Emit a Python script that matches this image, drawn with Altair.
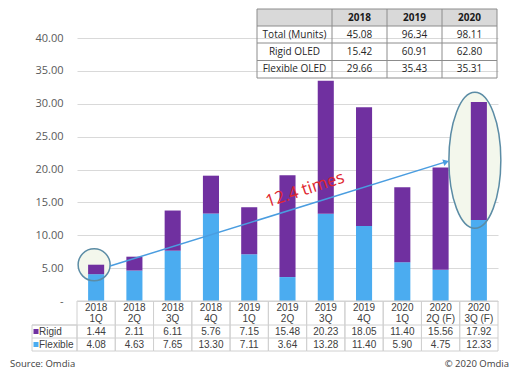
import altair as alt
import pandas as pd

# ---------------- data ----------------
categories = ["2018 1Q", "2018 2Q", "2018 3Q", "2018 4Q", "2019 1Q", "2019 2Q",
              "2019 3Q", "2019 4Q", "2020 1Q", "2020 2Q (F)", "2020 3Q (F)"]
rigid = [1.44, 2.11, 6.11, 5.76, 7.15, 15.48, 20.23, 18.05, 11.40, 15.56, 17.92]
flexible = [4.08, 4.63, 7.65, 13.30, 7.11, 3.64, 13.28, 11.40, 5.90, 4.75, 12.33]
y_ticks = [0, 5, 10, 15, 20, 25, 30, 35, 40]

summary_header = ["", "2018", "2019", "2020"]
summary_labels = ["Total (Munits)", "Rigid OLED", "Flexible OLED"]
summary_total = ["45.08", "96.34", "98.11"]
summary_rigid = ["15.42", "60.91", "62.80"]
summary_flex = ["29.66", "35.43", "35.31"]

annot_text = "12.4 times"
source_text = "Source: Omdia"
copy_text = "© 2020 Omdia"

# ---------------- layout constants ----------------
W, H = 421, 263
PURPLE = "#7030A0"
BLUE = "#4BACF0"
GRID = "#D9D9D9"
FONT = "Open Sans"
TFONT = "Liberation Sans"

rows = []
for i, c in enumerate(categories):
    rows.append({"cat": c, "series": "Flexible", "value": flexible[i], "ord": 0})
    rows.append({"cat": c, "series": "Rigid", "value": rigid[i], "ord": 1})
bars_df = pd.DataFrame(rows)

tab_df = pd.DataFrame({
    "cat": categories,
    "year": [c.split(" ", 1)[0] for c in categories],
    "q": [c.split(" ", 1)[1] for c in categories],
    "rigid": [f"{v:.2f}" for v in rigid],
    "flex": [f"{v:.2f}" for v in flexible],
})

one = pd.DataFrame({"k": [0]})

xscale = alt.Scale(domain=categories, paddingInner=0, paddingOuter=0)
X = alt.X("cat:N", sort=categories, scale=xscale, axis=None)
yscale = alt.Scale(domain=[0, 40], nice=False)
yaxis = alt.Axis(values=y_ticks, title=None, grid=True, gridColor=GRID,
                 domain=False, ticks=False, labelPadding=14,
                 labelFontSize=11, labelColor="#595959", labelFont=FONT,
                 labelExpr="datum.value == 0 ? '-' : format(datum.value, '.2f')")
Y = alt.Y("value:Q", scale=yscale, axis=yaxis)

bars = alt.Chart(bars_df).mark_bar(width=alt.RelativeBandSize(0.42)).encode(
    x=X,
    y=alt.Y("value:Q", stack="zero", scale=yscale, axis=yaxis),
    color=alt.Color("series:N", scale=alt.Scale(domain=["Rigid", "Flexible"],
                                                range=[PURPLE, BLUE]), legend=None),
    order=alt.Order("ord:Q"),
)

# annotation anchors (in data coordinates)
circ_df = pd.DataFrame({"cat": ["2018 1Q"], "value": [5.5]})
ell_df = pd.DataFrame({"cat": ["2020 3Q (F)"], "value": [21.4]})
arrow_df = pd.DataFrame({"cat": ["2018 1Q"], "cat2": ["2020 2Q (F)"],
                         "value": [5.32], "value2": [21.2]})
head_df = pd.DataFrame({"cat": ["2020 2Q (F)"], "value": [21.15]})
label_df = pd.DataFrame({"cat": ["2019 2Q"], "value": [16.9], "txt": [annot_text]})

ell_path = "M -0.382 0 A 0.382 1 0 1 0 0.382 0 A 0.382 1 0 1 0 -0.382 0 Z"
FILL = "#F3F7EC"
EDGE = "#5B8CA5"
circ_fill = alt.Chart(circ_df).mark_point(shape="circle", size=1024, filled=True,
                                          color=FILL, opacity=1, xOffset=-2).encode(x=X, y=Y)
ell_fill = alt.Chart(ell_df).mark_point(shape=ell_path, size=18496, filled=True,
                                        color=FILL, opacity=1, xOffset=-4).encode(x=X, y=Y)
circ_stroke = alt.Chart(circ_df).mark_point(shape="circle", size=1024, filled=False,
                                            stroke=EDGE, strokeWidth=1.5, opacity=1,
                                            xOffset=-2).encode(x=X, y=Y)
ell_stroke = alt.Chart(ell_df).mark_point(shape=ell_path, size=18496, filled=False,
                                          stroke=EDGE, strokeWidth=1.5, opacity=1,
                                          xOffset=-4).encode(x=X, y=Y)
arrow = alt.Chart(arrow_df).mark_rule(color="#4A9DE0", strokeWidth=1.5,
                                      xOffset=13.9, x2Offset=6).encode(
    x=X, x2="cat2:N", y=Y, y2="value2:Q")
arrow_head = alt.Chart(head_df).mark_point(shape="triangle-right", angle=343, size=45,
                                           filled=True, color="#4A9DE0", opacity=1,
                                           xOffset=5.5).encode(x=X, y=Y)
label = alt.Chart(label_df).mark_text(angle=342, fontSize=17, color="#E0262E",
                                      font=FONT, xOffset=17.5).encode(x=X, y=Y, text="txt:N")

layers = [circ_fill, ell_fill, bars, circ_stroke, ell_stroke, arrow, arrow_head, label]

# ---------------- bottom table ----------------
LINE = "#D0D0D0"
layers.append(alt.Chart(tab_df).mark_rect(fillOpacity=0, stroke=LINE, strokeWidth=1).encode(
    x=X, y=alt.value(263), y2=alt.value(313)))
layers.append(alt.Chart(one).mark_rect(fillOpacity=0, stroke=LINE, strokeWidth=1).encode(
    x=alt.value(-45), x2=alt.value(0), y=alt.value(287), y2=alt.value(313)))
for yy in (287, 300):
    layers.append(alt.Chart(one).mark_rule(color=LINE).encode(
        x=alt.value(-45), x2=alt.value(W), y=alt.value(yy)))

tkw = dict(fontSize=10, color="#404040", font=TFONT)
for field, yy in (("year", 270), ("q", 281), ("rigid", 293.5), ("flex", 306.5)):
    layers.append(alt.Chart(tab_df).mark_text(**tkw).encode(
        x=X, y=alt.value(yy), text=f"{field}:N"))

for name, col, yy in (("Rigid", PURPLE, 293.5), ("Flexible", BLUE, 306.5)):
    layers.append(alt.Chart(one).mark_square(size=25, opacity=1, color=col).encode(
        x=alt.value(-41), y=alt.value(yy)))
    layers.append(alt.Chart(one).mark_text(text=name, align="left", **tkw).encode(
        x=alt.value(-38), y=alt.value(yy)))

# ---------------- top summary table ----------------
col_edges = [180, 255, 310, 365, 420]
row_edges = [-29, -12, 5, 22.5, 40]
table_rows = [summary_header,
              [summary_labels[0]] + summary_total,
              [summary_labels[1]] + summary_rigid,
              [summary_labels[2]] + summary_flex]

layers.append(alt.Chart(one).mark_rect(color="#D9D9D9").encode(
    x=alt.value(col_edges[0]), x2=alt.value(col_edges[-1]),
    y=alt.value(row_edges[0]), y2=alt.value(row_edges[1])))
for yy in row_edges:
    layers.append(alt.Chart(one).mark_rule(color="#8C8C8C").encode(
        x=alt.value(col_edges[0]), x2=alt.value(col_edges[-1]), y=alt.value(yy)))
for xx in col_edges:
    layers.append(alt.Chart(one).mark_rule(color="#8C8C8C").encode(
        x=alt.value(xx), y=alt.value(row_edges[0]), y2=alt.value(row_edges[-1])))
for r, row in enumerate(table_rows):
    for c, txt in enumerate(row):
        if not txt:
            continue
        layers.append(alt.Chart(one).mark_text(
            text=txt, fontSize=10, font=FONT,
            fontWeight="bold" if r == 0 else "normal",
            color="#1A1A1A" if r == 0 else "#262626").encode(
            x=alt.value((col_edges[c] + col_edges[c + 1]) / 2),
            y=alt.value((row_edges[r] + row_edges[r + 1]) / 2)))

layers.append(alt.Chart(one).mark_text(text=source_text, align="left", fontSize=9.5,
                                       color="#404040", font=FONT).encode(
    x=alt.value(-67), y=alt.value(326)))
layers.append(alt.Chart(one).mark_text(text=copy_text, align="right", fontSize=9.5,
                                       color="#404040", font=FONT).encode(
    x=alt.value(432), y=alt.value(326)))

chart = alt.layer(*layers).properties(
    width=W, height=H,
    background="white",
    autosize=alt.AutoSizeParams(type="none"),
    padding={"left": 69, "top": 30, "right": 13, "bottom": 71},
).configure_view(stroke=None)

chart.save("out.html", embed_options={"renderer": "svg", "actions": False})
